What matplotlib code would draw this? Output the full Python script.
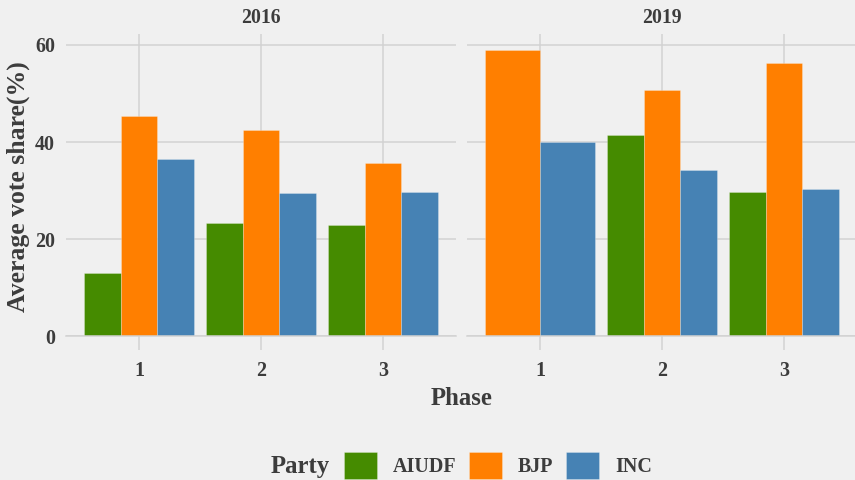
import matplotlib
matplotlib.use("Agg")
import matplotlib.pyplot as plt
from matplotlib.patches import Patch
import numpy as np

years = ["2016", "2019"]
phases = [1, 2, 3]
parties = ["AIUDF", "BJP", "INC"]
colors = {"AIUDF": "#458B00", "BJP": "#FF7F00", "INC": "#4682B4"}

# values[year][party] per phase (None = no data)
aiudf_2016 = [12.95, 23.4, 22.9]
bjp_2016 = [45.4, 42.5, 35.6]
inc_2016 = [36.6, 29.5, 29.8]
aiudf_2019 = [None, 41.4, 29.7]
bjp_2019 = [59.0, 50.8, 56.3]
inc_2019 = [40.1, 34.3, 30.3]

data = {
    "2016": {"AIUDF": aiudf_2016, "BJP": bjp_2016, "INC": inc_2016},
    "2019": {"AIUDF": aiudf_2019, "BJP": bjp_2019, "INC": inc_2019},
}
yticks = [0, 20, 40, 60]

TXT = "#3C3C3C"
BG = "#F0F0F0"
GRID = "#D2D2D2"
FONT = "Liberation Serif"

plt.rcParams["font.family"] = [FONT, "DejaVu Serif"]
plt.rcParams["font.weight"] = "bold"

W, H = 855, 480
fig = plt.figure(figsize=(W / 100, H / 100), dpi=100, facecolor=BG)

panel_px = [(66, 456), (467, 857)]
top_px, bot_px = 34.3, 336.3
ymax = 62.2

for i, (yr, (x0, x1)) in enumerate(zip(years, panel_px)):
    ax = fig.add_axes([x0 / W, (H - bot_px) / H, (x1 - x0) / W, (bot_px - top_px) / H])
    ax.set_facecolor(BG)
    ax.set_xlim(0.4, 3.6)
    ax.set_ylim(0, ymax)
    for s in ["top", "right", "left"]:
        ax.spines[s].set_visible(False)
    ax.spines["bottom"].set_color(GRID)
    ax.spines["bottom"].set_linewidth(1.1)
    ax.grid(True, color=GRID, linewidth=1.1)
    ax.set_axisbelow(True)
    ax.set_xticks(phases)
    ax.set_xticklabels([str(p) for p in phases])
    ax.set_yticks(yticks)
    if i == 0:
        ax.set_yticklabels([str(t) for t in yticks])
    else:
        ax.set_yticklabels([])
    ax.tick_params(axis="x", length=10, width=1.1, color=GRID, pad=7.5,
                   labelsize=14.4, labelcolor=TXT)
    ax.tick_params(axis="y", length=0, pad=8, labelsize=14.4, labelcolor=TXT)
    for lab in ax.get_xticklabels() + ax.get_yticklabels():
        lab.set_fontweight("bold")

    for pi, ph in enumerate(phases):
        present = [p for p in parties if data[yr][p][pi] is not None]
        n = len(present)
        w = 0.9 / n
        for k, p in enumerate(present):
            xc = ph - 0.45 + w * (k + 0.5)
            ax.bar(xc, data[yr][p][pi], width=w, color=colors[p],
                   edgecolor=(1, 1, 1, 0.25), linewidth=0.7)

    ax.text(0.5, (top_px - 23.3) / (bot_px - top_px) + 1.0, yr, transform=ax.transAxes,
            ha="center", va="baseline", fontsize=14.2, fontweight="bold", color=TXT)

fig.text(18 / W, (H - 187) / H, "Average vote share(%)", rotation=90,
         ha="center", va="center", fontsize=18.5, fontweight="bold", color=TXT)
fig.text(462 / W, (H - 405) / H, "Phase", ha="center", va="baseline",
         fontsize=17.8, fontweight="bold", color=TXT)

fig.text(270.7 / W, (H - 473.3) / H, "Party", ha="left", va="baseline",
         fontsize=17.8, fontweight="bold", color=TXT)
handles = [Patch(facecolor=colors[p], edgecolor=(1, 1, 1, 0.25), linewidth=0.7) for p in parties]
leg = fig.legend(handles, parties, ncol=3, loc="center",
                 bbox_to_anchor=(498 / W, (H - 465.5) / H), frameon=False,
                 prop={"family": FONT, "weight": "bold", "size": 14.4},
                 handlelength=1.65, handleheight=1.65, handletextpad=0.8,
                 columnspacing=0.62, borderpad=0, borderaxespad=0)
for t in leg.get_texts():
    t.set_color(TXT)

fig.savefig("out.png", dpi=100, facecolor=BG)
